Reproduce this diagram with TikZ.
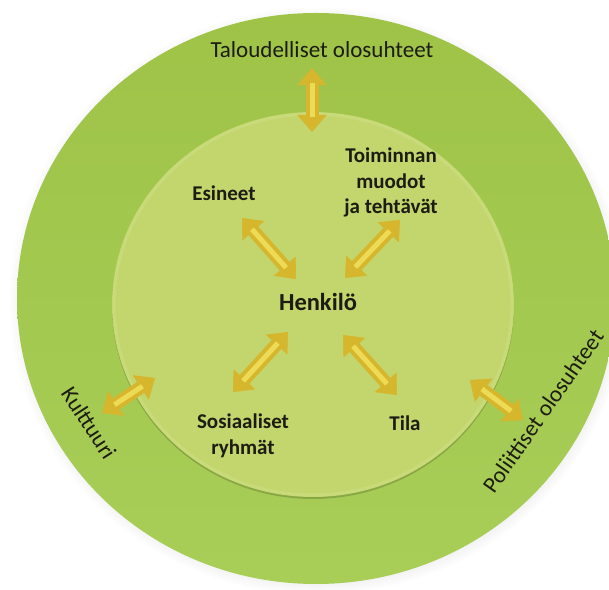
\documentclass[tikz,border=0pt]{standalone}
\usepackage{fontspec}
\setmainfont{Carlito}
\usetikzlibrary{arrows.meta,shadows}

\definecolor{ringtop}{HTML}{9EC347}
\definecolor{ringbottom}{HTML}{A9CE58}
\definecolor{innergreen}{HTML}{C3D56D}
\definecolor{innerrim}{HTML}{D2E18A}
\definecolor{arrowgold}{HTML}{D6B62C}
\definecolor{arrowlight}{HTML}{EEDB55}
\definecolor{textdark}{HTML}{1C1C12}

\tikzset{
    itemtext/.style={font=\bfseries\fontsize{21}{25.5}\selectfont, text=textdark, align=center},
    centertext/.style={font=\bfseries\fontsize{24.5}{29}\selectfont, text=textdark},
    ringtext/.style={font=\fontsize{23}{27}\selectfont, text=textdark},
    twoway/.style={draw=arrowgold, line width=13pt,
        {Triangle[length=17pt,width=29pt,line width=0.4pt]}-{Triangle[length=17pt,width=29pt,line width=0.4pt]}},
    shine/.style={draw=arrowlight, line width=5pt, shorten <=15pt, shorten >=15pt}
}

\begin{document}
\begin{tikzpicture}[x=1pt, y=1pt]
        \useasboundingbox (0,0) rectangle (609,589);
        \clip (0,0) rectangle (609,589);

        % outer ring and inner disc
        \shade[top color=ringtop, bottom color=ringbottom,
            circular drop shadow={shadow xshift=1pt, shadow yshift=-2pt, shadow scale=1.03, opacity=0.35}]
            (316,290.5) ellipse [x radius=299pt, y radius=285.5pt];
        \fill[innergreen, drop shadow={shadow xshift=0pt, shadow yshift=-2pt, opacity=0.18, fill=black}]
            (313,284.5) ellipse [x radius=201pt, y radius=192.5pt];
        \draw[innerrim, line width=3pt, opacity=0.45] (313,284.5) ellipse [x radius=199pt, y radius=190.5pt];

        \node[centertext] (henkilo) at (318,287) {Henkilö};
        \node[itemtext] (esineet) at (224,396) {Esineet};
        \node[itemtext] (toiminta) at (391,406.5) {Toiminnan\\muodot\\ja tehtävät};
        \node[itemtext] (ryhmat) at (243,153) {Sosiaaliset\\ryhmät};
        \node[itemtext] (tila) at (405,166) {Tila};

        \node[ringtext] (talous) at (322,539) {Taloudelliset olosuhteet};
        \node[ringtext, rotate=-57] (kulttuuri) at (89,166) {Kulttuuri};
        \node[ringtext, rotate=55] (politiikka) at (543,178) {Poliittiset olosuhteet};

        % arrow ends
        \coordinate (talousA) at (312,521);
        \coordinate (talousB) at (312,457);
        \coordinate (esineetA) at (242,371);
        \coordinate (esineetB) at (296,310);
        \coordinate (toimintaA) at (400,369);
        \coordinate (toimintaB) at (345,311);
        \coordinate (ryhmatA) at (288,257);
        \coordinate (ryhmatB) at (233,197);
        \coordinate (tilaA) at (343,254);
        \coordinate (tilaB) at (397,194);
        \coordinate (kulttuuriA) at (155,211);
        \coordinate (kulttuuriB) at (102,176);
        \coordinate (politiikkaA) at (470,209);
        \coordinate (politiikkaB) at (523,169);

        \draw[twoway] (talousA) -- (talousB);
        \draw[shine] (talousA) -- (talousB);
        \draw[twoway] (esineetA) -- (esineetB);
        \draw[shine] (esineetA) -- (esineetB);
        \draw[twoway] (toimintaA) -- (toimintaB);
        \draw[shine] (toimintaA) -- (toimintaB);
        \draw[twoway] (ryhmatA) -- (ryhmatB);
        \draw[shine] (ryhmatA) -- (ryhmatB);
        \draw[twoway] (tilaA) -- (tilaB);
        \draw[shine] (tilaA) -- (tilaB);
        \draw[twoway] (kulttuuriA) -- (kulttuuriB);
        \draw[shine] (kulttuuriA) -- (kulttuuriB);
        \draw[twoway] (politiikkaA) -- (politiikkaB);
        \draw[shine] (politiikkaA) -- (politiikkaB);
    \end{tikzpicture}
\end{document}
